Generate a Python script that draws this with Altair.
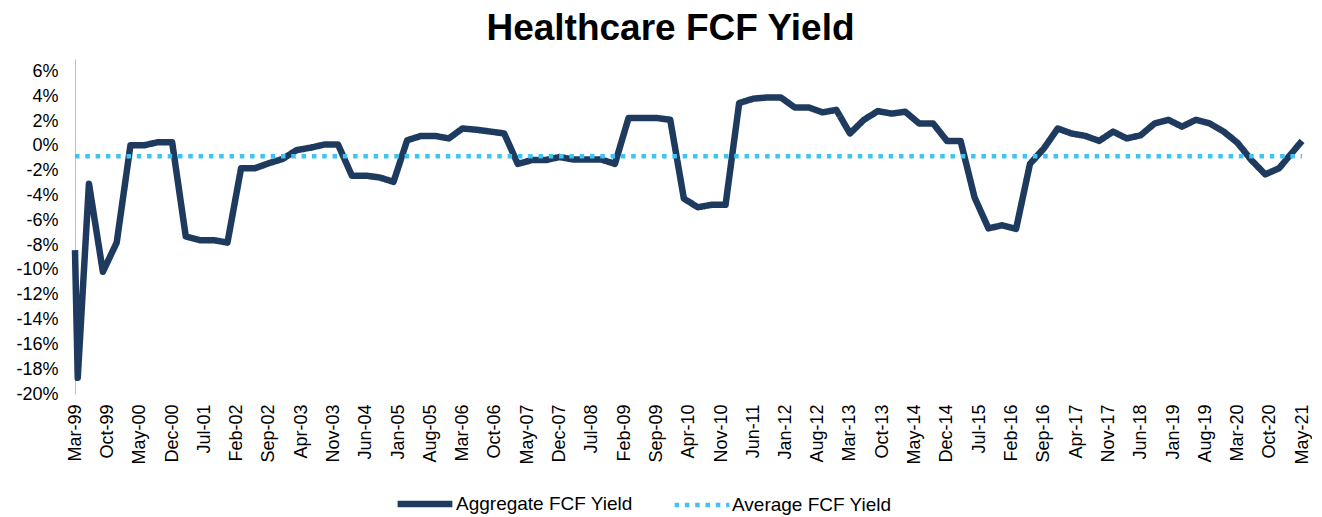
import altair as alt
import pandas as pd

# ---- data ----
agg_dates = [
    "1999-03-01", "1999-03-19", "1999-06-01", "1999-09-01", "1999-12-01",
    "2000-03-01", "2000-06-01", "2000-09-01", "2000-12-01",
    "2001-03-01", "2001-06-01", "2001-09-01", "2001-12-01",
    "2002-03-01", "2002-06-01", "2002-09-01", "2002-12-01",
    "2003-03-01", "2003-06-01", "2003-09-01", "2003-12-01",
    "2004-03-01", "2004-06-01", "2004-09-01", "2004-12-01",
    "2005-03-01", "2005-06-01", "2005-09-01", "2005-12-01",
    "2006-03-01", "2006-06-01", "2006-09-01", "2006-12-01",
    "2007-03-01", "2007-06-01", "2007-09-01", "2007-12-01",
    "2008-03-01", "2008-06-01", "2008-09-01", "2008-12-01",
    "2009-03-01", "2009-06-01", "2009-09-01", "2009-12-01",
    "2010-03-01", "2010-06-01", "2010-09-01", "2010-12-01",
    "2011-03-01", "2011-06-01", "2011-09-01", "2011-12-01",
    "2012-03-01", "2012-06-01", "2012-09-01", "2012-12-01",
    "2013-03-01", "2013-06-01", "2013-09-01", "2013-12-01",
    "2014-03-01", "2014-06-01", "2014-09-01", "2014-12-01",
    "2015-03-01", "2015-06-01", "2015-09-01", "2015-12-01",
    "2016-03-01", "2016-06-01", "2016-09-01", "2016-12-01",
    "2017-03-01", "2017-06-01", "2017-09-01", "2017-12-01",
    "2018-03-01", "2018-06-01", "2018-09-01", "2018-12-01",
    "2019-03-01", "2019-06-01", "2019-09-01", "2019-12-01",
    "2020-03-01", "2020-06-01", "2020-09-01", "2020-12-01",
    "2021-05-01",
]
agg_values = [
    -8.4, -18.7, -3.05, -10.15, -7.8,
    0.05, 0.05, 0.3, 0.3,
    -7.3, -7.6, -7.6, -7.8,
    -1.8, -1.8, -1.4, -1.05,
    -0.35, -0.15, 0.1, 0.1,
    -2.4, -2.4, -2.55, -2.9,
    0.45, 0.8, 0.8, 0.6,
    1.4, 1.3, 1.15, 1.0,
    -1.45, -1.15, -1.15, -0.9,
    -1.1, -1.1, -1.1, -1.45,
    2.25, 2.25, 2.25, 2.1,
    -4.25, -4.95, -4.75, -4.75,
    3.45, 3.8, 3.9, 3.9,
    3.1, 3.1, 2.7, 2.9,
    1.0, 2.1, 2.8, 2.6,
    2.75, 1.8, 1.8, 0.4,
    0.4, -4.15, -6.65, -6.4,
    -6.7, -1.45, -0.2, 1.4,
    1.0, 0.8, 0.4, 1.15,
    0.6, 0.85, 1.8, 2.1,
    1.55, 2.1, 1.8, 1.15,
    0.25, -1.15, -2.3, -1.8,
    0.4,
]
avg_dates = ["1999-03-01", "2021-05-01"]
avg_values = [-0.84, -0.84]

series_names = ["Aggregate FCF Yield", "Average FCF Yield"]
series_colors = ["#1f3a5f", "#3fc3f2"]

tick_dates = [
    "1999-03", "1999-10", "2000-05", "2000-12", "2001-07", "2002-02", "2002-09",
    "2003-04", "2003-11", "2004-06", "2005-01", "2005-08", "2006-03", "2006-10",
    "2007-05", "2007-12", "2008-07", "2009-02", "2009-09", "2010-04", "2010-11",
    "2011-06", "2012-01", "2012-08", "2013-03", "2013-10", "2014-05", "2014-12",
    "2015-07", "2016-02", "2016-09", "2017-04", "2017-11", "2018-06", "2019-01",
    "2019-08", "2020-03", "2020-10", "2021-05",
]
y_ticks = [-20, -18, -16, -14, -12, -10, -8, -6, -4, -2, 0, 2, 4, 6]

# ---- build table ----
df = pd.concat([
    pd.DataFrame({"date": agg_dates, "value": agg_values, "series": series_names[0]}),
    pd.DataFrame({"date": avg_dates, "value": avg_values, "series": series_names[1]}),
])

def dt(s):
    y, m = s.split("-")[:2]
    return alt.DateTime(year=int(y), month=int(m), date=1, utc=True)

FONT = "Liberation Sans"

legend = alt.Legend(
    title=None, orient="none", legendX=319, legendY=414, direction="horizontal",
    symbolType="stroke", symbolSize=3000, labelFontSize=19, labelFont=FONT,
    labelColor="#000000", labelOffset=0, columnPadding=32, padding=0,
    labelLimit=400,
)

chart = alt.Chart(df).mark_line(strokeCap="butt", strokeJoin="round").encode(
    x=alt.X(
        "date:T",
        title=None,
        scale=alt.Scale(type="utc", domain=[dt("1999-03"), dt("2021-05")]),
        axis=alt.Axis(
            values=[dt(s) for s in tick_dates],
            labelExpr="utcFormat(datum.value, '%b-%y')",
            labelAngle=270, labelAlign="right", labelBaseline="middle",
            labelPadding=10, labelFontSize=18, labelFont=FONT, labelColor="#000000",
            labelOverlap=False, labelFlush=False, labelBound=False,
            domain=False, ticks=False, grid=False,
        ),
    ),
    y=alt.Y(
        "value:Q",
        title=None,
        scale=alt.Scale(domain=[-20, 7], nice=False, zero=False),
        axis=alt.Axis(
            values=y_ticks, labelExpr="datum.value + '%'",
            labelPadding=17, labelFontSize=18, labelFont=FONT, labelColor="#000000",
            domain=True, domainColor="#bfbfbf", domainWidth=1,
            ticks=False, grid=False, labelOverlap=False, labelFlush=False,
        ),
    ),
    color=alt.Color("series:N", scale=alt.Scale(domain=series_names, range=series_colors), legend=legend),
    strokeDash=alt.StrokeDash("series:N", scale=alt.Scale(domain=series_names, range=[[1, 0], [4.5, 5.8]]), legend=legend),
    strokeWidth=alt.StrokeWidth("series:N", scale=alt.Scale(domain=series_names, range=[6.5, 4.5]), legend=legend),
    order=alt.Order("date:T"),
).properties(
    width=1227,
    height=335,
    autosize=alt.AutoSizeParams(type="none"),
    padding={"left": 67, "top": 51, "right": 10, "bottom": 121},
    title=alt.Title(
        "Healthcare FCF Yield", fontSize=37, font=FONT, fontWeight="bold",
        color="#000000", anchor="middle", dx=-18, offset=11,
    ),
).configure(background="white").configure_view(stroke=None)

chart.save("out.html", embed_options={"renderer": "svg", "actions": False})
